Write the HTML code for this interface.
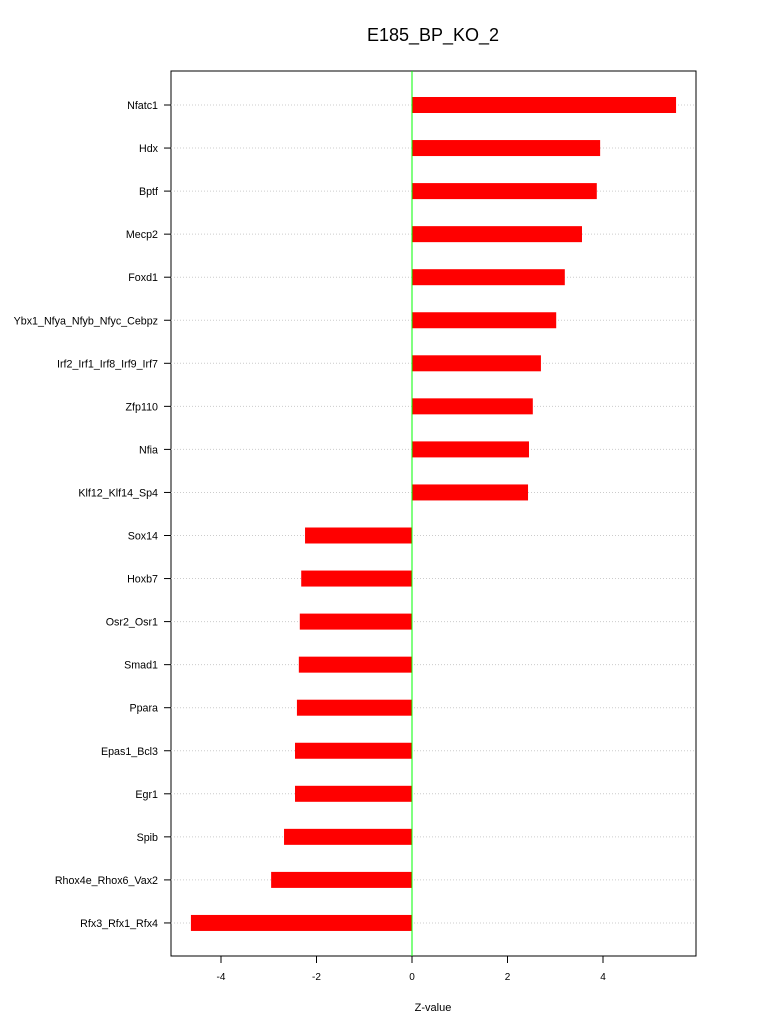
<!DOCTYPE html>
<html><head><meta charset="utf-8"><style>
body{margin:0;background:#fff;}
svg{display:block;font-family:"Liberation Sans",sans-serif;}
</style></head><body>
<svg id="chart" width="768" height="1028">
<text x="433" y="41" font-size="18" text-anchor="middle">E185_BP_KO_2</text>
<rect x="171" y="71" width="525" height="885" fill="none" stroke="#000" stroke-width="1"/>
<g id="grid"></g><g id="bars"></g><g id="labels"></g><g id="xaxis"></g>
<line x1="412" y1="71" x2="412" y2="956" stroke="#00ff00" stroke-width="1"/>
<text x="433" y="1011" font-size="11" text-anchor="middle">Z-value</text>
</svg>
<script>
const categories=["Nfatc1","Hdx","Bptf","Mecp2","Foxd1","Ybx1_Nfya_Nfyb_Nfyc_Cebpz","Irf2_Irf1_Irf8_Irf9_Irf7","Zfp110","Nfia","Klf12_Klf14_Sp4","Sox14","Hoxb7","Osr2_Osr1","Smad1","Ppara","Epas1_Bcl3","Egr1","Spib","Rhox4e_Rhox6_Vax2","Rfx3_Rfx1_Rfx4"];
const values=[5.53,3.94,3.87,3.56,3.2,3.02,2.70,2.53,2.45,2.43,-2.24,-2.32,-2.35,-2.37,-2.41,-2.45,-2.45,-2.68,-2.95,-4.63];
const ticks=[-4,-2,0,2,4];
const NS="http://www.w3.org/2000/svg";
const x=v=>412+v*47.75;
const y=i=>105+i*43.05;
function mk(tag,attrs,parent){const e=document.createElementNS(NS,tag);for(const k in attrs)e.setAttribute(k,attrs[k]);document.getElementById(parent).appendChild(e);return e;}
categories.forEach((c,i)=>{
 const g=mk("line",{x1:171,x2:696,y1:y(i),y2:y(i),stroke:"#ccc","stroke-dasharray":"1,2"},"grid");
 
 
 const yt=mk("line",{x1:164,x2:171,y1:y(i),y2:y(i),stroke:"#000"},"grid");
 
 
 const v=values[i];
 const b=mk("rect",{x:Math.min(x(0),x(v)),y:y(i)-8,width:Math.abs(x(v)-x(0)),height:16,fill:"#ff0000"},"bars");
 
 
 const t=mk("text",{x:158,y:y(i)+4,"font-size":10.7,"text-anchor":"end"},"labels");
 t.textContent=c;
 
 
});
ticks.forEach(v=>{
 const l=mk("line",{x1:x(v),x2:x(v),y1:956,y2:963,stroke:"#000"},"xaxis");
 
 
 const t=mk("text",{x:x(v),y:980,"font-size":10,"text-anchor":"middle"},"xaxis");
 t.textContent=v;
 
 
});
</script>
</body></html>
